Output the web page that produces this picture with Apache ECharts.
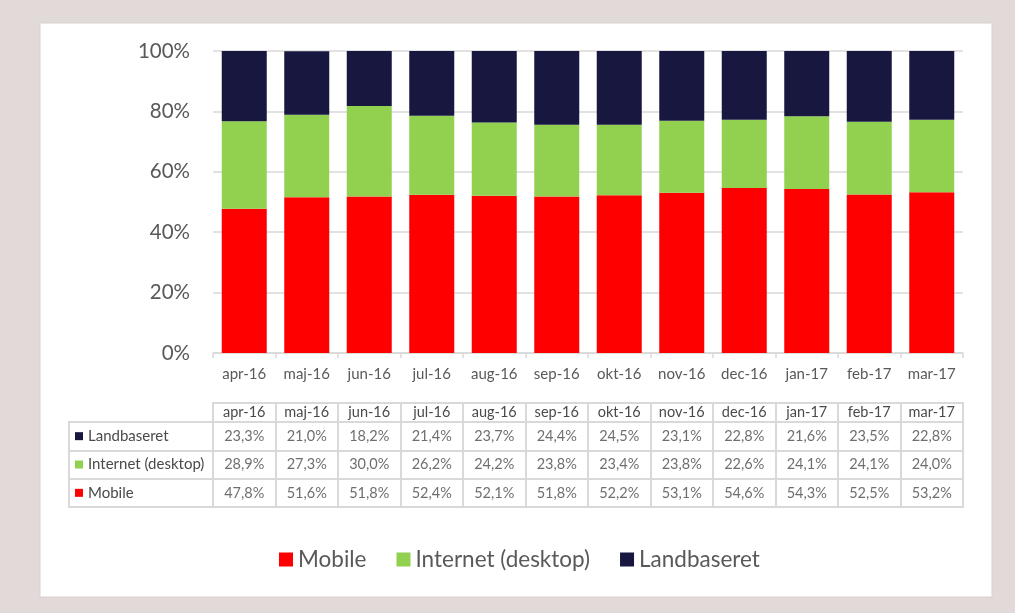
<!DOCTYPE html>
<html>
<head>
<meta charset="utf-8">
<script src="https://cdn.jsdelivr.net/npm/echarts@6/dist/echarts.min.js"></script>
<style>
  html, body { margin: 0; padding: 0; background: #e2dad8; }
  #chart { width: 1015px; height: 613px; }
</style>
</head>
<body>
<div id="chart"></div>
<script>
var months = ['apr-16', 'maj-16', 'jun-16', 'jul-16', 'aug-16', 'sep-16', 'okt-16', 'nov-16', 'dec-16', 'jan-17', 'feb-17', 'mar-17'];
var mobile = [47.8, 51.6, 51.8, 52.4, 52.1, 51.8, 52.2, 53.1, 54.6, 54.3, 52.5, 53.2];
var desktop = [28.9, 27.3, 30.0, 26.2, 24.2, 23.8, 23.4, 23.8, 22.6, 24.1, 24.1, 24.0];
var landbaseret = [23.3, 21.0, 18.2, 21.4, 23.7, 24.4, 24.5, 23.1, 22.8, 21.6, 23.5, 22.8];
var seriesNames = ['Mobile', 'Internet (desktop)', 'Landbaseret'];
var colors = ['#ff0000', '#92d050', '#17173f'];

var font = 'Lato, "Open Sans", sans-serif';
var txt = '#595959';
var cellTxt = '#4a4a4a';
var line = '#d9d9d9';

// table cells: [column, row, value], rows bottom->top = Mobile, desktop, Landbaseret
var rows = [mobile, desktop, landbaseret];
var cells = [];
rows.forEach(function (r, ri) {
  r.forEach(function (v, i) { cells.push([i, ri, v]); });
});

var chart = echarts.init(document.getElementById('chart'));
var option = {
  backgroundColor: '#e2dad8',
  textStyle: { fontFamily: font },
  graphic: [{
    type: 'rect', z: -10,
    shape: { x: 40, y: 23, width: 952, height: 574 },
    style: { fill: '#ffffff', stroke: '#d6d0ce', lineWidth: 1 }
  }],
  legend: {
    data: seriesNames,
    bottom: 37,
    left: 274,
    icon: 'rect',
    itemWidth: 14,
    itemHeight: 14,
    itemGap: 30,
    textStyle: { fontSize: 22.5, color: txt, fontFamily: font }
  },
  grid: [
    { left: 213, right: 52, top: 51, height: 302 },
    { left: 213, right: 52, top: 403, height: 19, show: true, borderColor: line, borderWidth: 2 },
    { left: 213, right: 52, top: 422, height: 85, show: true, borderColor: line, borderWidth: 2 },
    { left: 69, width: 144, top: 422, height: 85, show: true, borderColor: line, borderWidth: 2 }
  ],
  xAxis: [
    {
      gridIndex: 0, type: 'category', data: months,
      axisLine: { lineStyle: { color: line, width: 1.5 } },
      axisTick: { show: true, length: 5, interval: 0, lineStyle: { color: line, width: 1.5 } },
      axisLabel: { interval: 0, fontSize: 15, color: txt, margin: 14 }
    },
    {
      gridIndex: 1, type: 'category', data: months,
      axisLine: { show: false }, axisTick: { show: false },
      axisLabel: { interval: 0, fontSize: 14.5, color: cellTxt, margin: -10, verticalAlign: 'middle' },
      splitLine: { show: true, interval: 0, lineStyle: { color: line, width: 2 } }
    },
    {
      gridIndex: 2, type: 'category', data: months,
      axisLine: { show: false }, axisTick: { show: false }, axisLabel: { show: false },
      splitLine: { show: true, interval: 0, lineStyle: { color: line, width: 2 } }
    },
    { gridIndex: 3, type: 'value', show: false }
  ],
  yAxis: [
    {
      gridIndex: 0, type: 'value', min: 0, max: 100, interval: 20,
      axisLine: { show: false }, axisTick: { show: false },
      axisLabel: { formatter: '{value}%', fontSize: 20.5, color: txt, margin: 23 },
      splitLine: { lineStyle: { color: line, width: 1.5 } }
    },
    { gridIndex: 1, type: 'category', data: [''], show: false },
    {
      gridIndex: 2, type: 'category', data: seriesNames,
      axisLine: { show: false }, axisTick: { show: false }, axisLabel: { show: false },
      splitLine: { show: true, interval: 0, lineStyle: { color: line, width: 2 } }
    },
    {
      gridIndex: 3, type: 'category', data: seriesNames,
      axisLine: { show: false }, axisTick: { show: false },
      splitLine: { show: true, interval: 0, lineStyle: { color: line, width: 2 } },
      axisLabel: {
        inside: true, margin: 6, fontSize: 15, color: cellTxt,
        formatter: function (v, i) { return '{s' + i + '|}{t|' + v + '}'; },
        rich: {
          s0: { width: 8, height: 8, backgroundColor: colors[0] },
          s1: { width: 8, height: 8, backgroundColor: colors[1] },
          s2: { width: 8, height: 8, backgroundColor: colors[2] },
          t: { fontSize: 15, color: cellTxt, padding: [0, 0, 0, 5], fontFamily: font }
        }
      }
    }
  ],
  series: [
    { name: seriesNames[0], type: 'bar', stack: 'all', barWidth: 45, data: mobile, itemStyle: { color: colors[0] } },
    { name: seriesNames[1], type: 'bar', stack: 'all', barWidth: 45, data: desktop, itemStyle: { color: colors[1] } },
    { name: seriesNames[2], type: 'bar', stack: 'all', barWidth: 45, data: landbaseret, itemStyle: { color: colors[2] } },
    {
      type: 'scatter', xAxisIndex: 2, yAxisIndex: 2, data: cells,
      symbolSize: 1, itemStyle: { color: 'rgba(0,0,0,0)' }, silent: true,
      label: {
        show: true, position: 'inside', fontSize: 14.5, color: cellTxt,
        formatter: function (p) { return p.value[2].toFixed(1).replace('.', ',') + '%'; }
      }
    }
  ]
};
chart.setOption(option);
</script>
</body>
</html>
